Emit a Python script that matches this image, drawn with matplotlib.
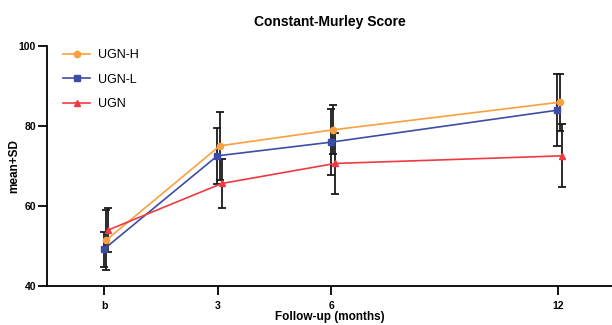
import matplotlib
matplotlib.use("Agg")
import matplotlib.pyplot as plt
from matplotlib.transforms import ScaledTranslation

plt.rcParams['font.family'] = ['Liberation Sans', 'DejaVu Sans']

months = [0, 3, 6, 12]
tick_labels = ['b', '3', '6', '12']

ugn_h_mean = [51.5, 75.0, 79.0, 85.9]
ugn_h_sd = [7.5, 8.5, 6.1, 7.1]
ugn_l_mean = [49.2, 72.5, 75.9, 83.9]
ugn_l_sd = [4.4, 7.0, 8.3, 9.0]
ugn_mean = [54.0, 65.6, 70.6, 72.5]
ugn_sd = [5.4, 6.2, 7.6, 7.9]

series = [
    ('UGN-H', ugn_h_mean, ugn_h_sd, '#F9A03F', 'o', 4.5, 2.0),
    ('UGN-L', ugn_l_mean, ugn_l_sd, '#3D4DA6', 's', 4.5, -0.5),
    ('UGN', ugn_mean, ugn_sd, '#EE3B42', '^', 4.2, 4.0),
]

fig = plt.figure(figsize=(6.12, 3.25), dpi=100)
ax = fig.add_axes([47/612, (325-286)/325, 1 - 47/612, (286-45.7)/325])

handles = []
for name, m, sd, color, marker, ms, dx in series:
    tr = ax.transData + ScaledTranslation(dx/100, 0, fig.dpi_scale_trans)
    ax.errorbar(months, m, yerr=sd, fmt='none', ecolor='#1a1a1a', elinewidth=1.3,
                capsize=3, capthick=1.3, transform=tr, zorder=2)
    h, = ax.plot(months, m, color=color, marker=marker, markersize=ms, lw=1.2,
                 transform=tr, zorder=3, label=name)
    handles.append(h)

ax.set_xlim(-1.52, 13.43)
ax.set_ylim(40, 100)
ax.set_xticks(months)
ax.set_xticklabels(tick_labels)
ax.set_yticks([40, 60, 80, 100])

for s in ['top', 'right']:
    ax.spines[s].set_visible(False)
for s in ['left', 'bottom']:
    ax.spines[s].set_linewidth(1.3)
ax.tick_params(axis='both', length=6.5, width=1.3, labelsize=7.5)
ax.tick_params(axis='x', pad=4)
ax.tick_params(axis='y', pad=1.5)
for lbl in ax.get_xticklabels() + ax.get_yticklabels():
    lbl.set_fontweight('bold')

ax.set_title('Constant-Murley Score', fontsize=10, fontweight='bold', pad=14)
ax.set_xlabel('Follow-up (months)', fontsize=8.5, fontweight='bold')
ax.xaxis.set_label_coords(0.5, -0.104)
ax.set_ylabel('mean+SD', fontsize=8.5, fontweight='bold')
ax.yaxis.set_label_coords(-0.047, 0.5)

leg = ax.legend(handles=handles, loc='upper left', bbox_to_anchor=(0.015, 1.017),
                frameon=False, fontsize=9, labelspacing=1.0, handlelength=2.2,
                handletextpad=0.6, borderaxespad=0.2)

fig.savefig('out.png', dpi=100)
